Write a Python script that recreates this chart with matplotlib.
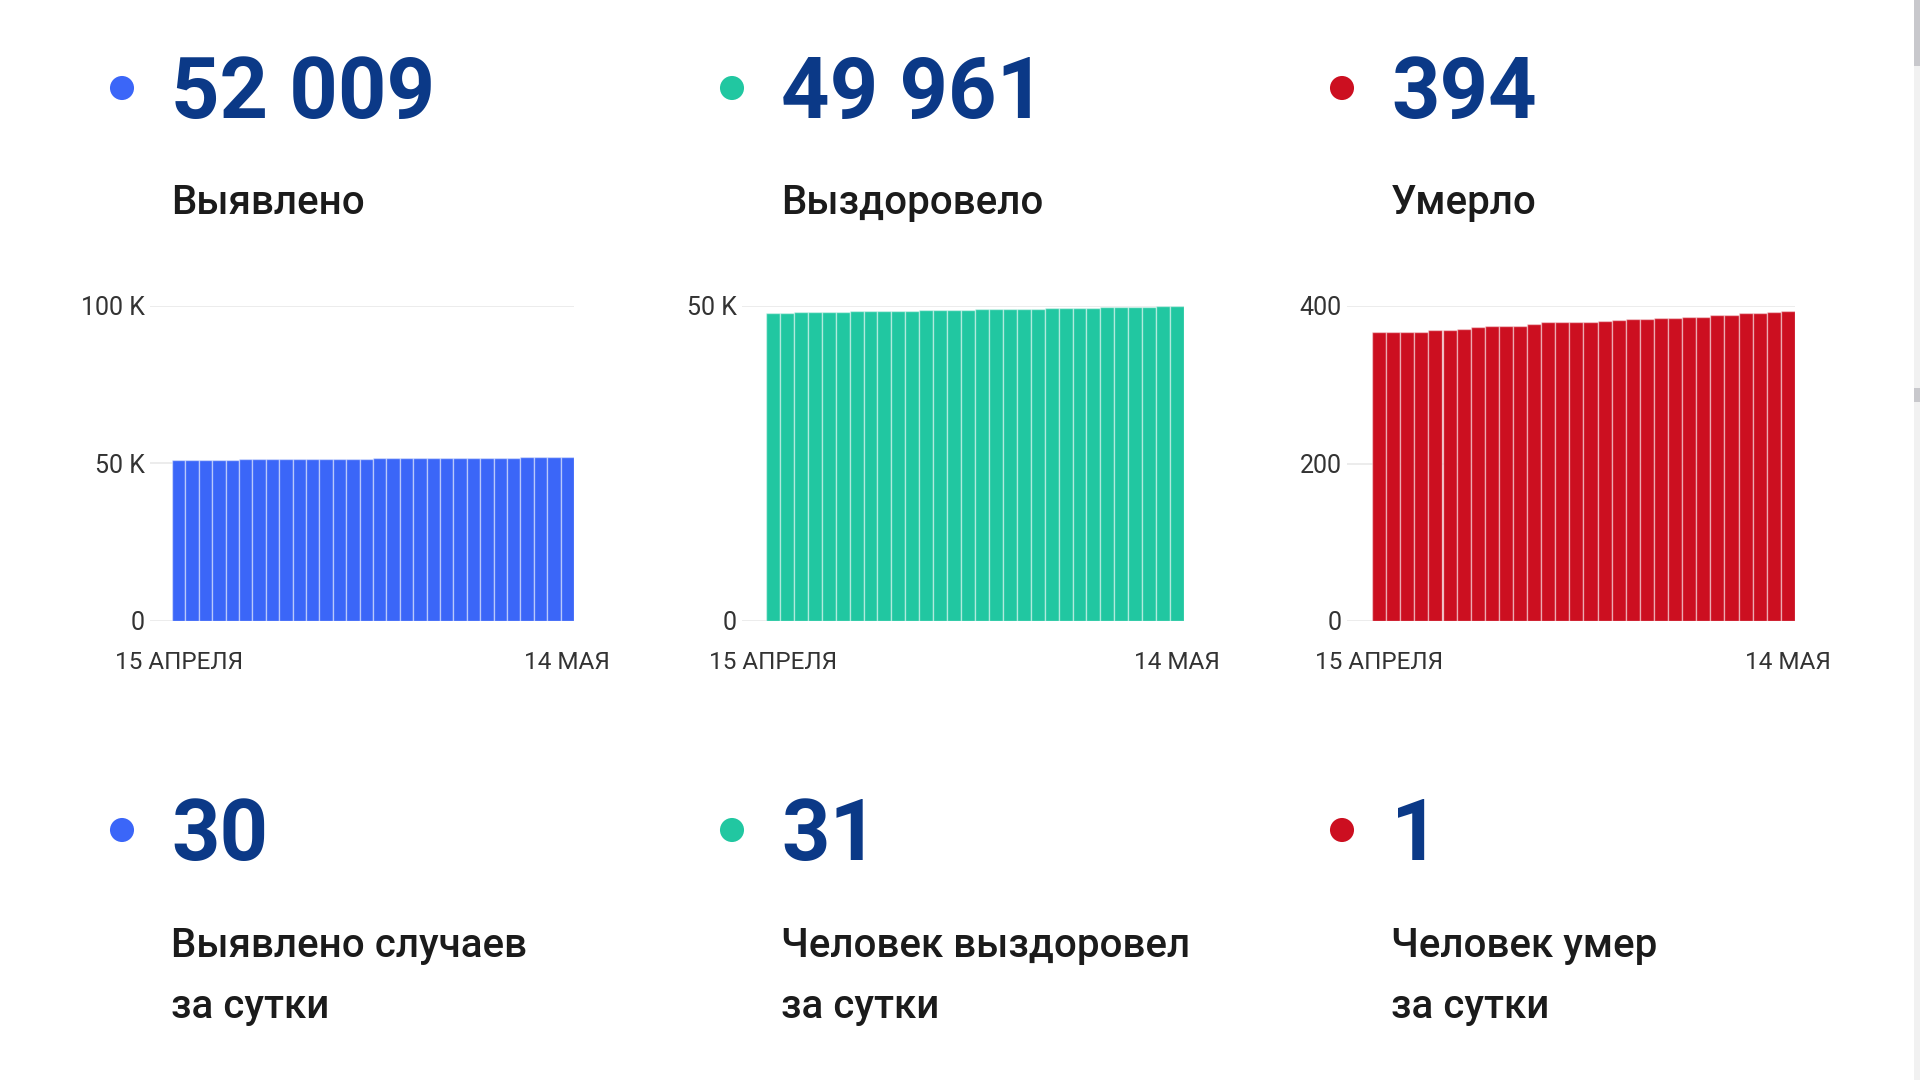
import matplotlib
matplotlib.use("Agg")
import matplotlib.pyplot as plt
from matplotlib.patches import Rectangle

plt.rcParams['font.family'] = ['Roboto', 'DejaVu Sans']

# --- data -------------------------------------------------------------
date_labels = ["15 АПРЕЛЯ", "14 МАЯ"]

cases = [51140, 51172, 51203, 51235, 51264, 51293, 51322, 51351, 51381, 51410,
         51440, 51470, 51500, 51529, 51559, 51588, 51617, 51647, 51676, 51706,
         51736, 51765, 51795, 51823, 51852, 51883, 51913, 51946, 51979, 52009]

recovered = [48930, 48966, 49001, 49037, 49072, 49108, 49143, 49178, 49213, 49249,
             49284, 49319, 49354, 49389, 49424, 49459, 49494, 49529, 49564, 49599,
             49634, 49669, 49704, 49739, 49773, 49808, 49840, 49870, 49930, 49961]

deaths = [367, 367, 367, 367, 369, 370, 371, 373, 374, 374,
          375, 377, 380, 380, 380, 380, 381, 382, 383, 384,
          385, 385, 386, 386, 388, 389, 391, 391, 393, 394]

totals = ["52 009", "49 961", "394"]
total_labels = ["Выявлено", "Выздоровело", "Умерло"]
daily = ["30", "31", "1"]
daily_labels = [["Выявлено случаев", "за сутки"],
                ["Человек выздоровел", "за сутки"],
                ["Человек умер", "за сутки"]]

y_ticks = [[0, 50000, 100000], [0, 50000], [0, 200, 400]]
y_tick_labels = [["0", "50 K", "100 K"], ["0", "50 K"], ["0", "200", "400"]]
y_max = [100000, 50000, 400]

colors = ["#3b66f8", "#21c7a1", "#cc0f20"]
num_color = "#0b3987"
text_color = "#1b1b1b"

fig = plt.figure(figsize=(19.2, 10.8), dpi=100)
fig.patch.set_facecolor("white")

# overlay in pixel coords for the big numbers / labels
ov = fig.add_axes([0, 0, 1, 1])
ov.set_xlim(0, 1920)
ov.set_ylim(1080, 0)
ov.axis("off")

col_dot_x = [122, 732, 1342]
col_text_x = [171, 781, 1391]

for i in range(3):
    # top block
    ov.scatter([col_dot_x[i]], [88], s=300, color=colors[i], edgecolors="none")
    ov.text(col_text_x[i], 118, totals[i], fontsize=61, fontweight="bold",
            color=num_color, va="baseline", ha="left")
    ov.text(col_text_x[i], 214, total_labels[i], fontsize=29, fontweight=500,
            color=text_color, va="baseline", ha="left")
    # bottom block
    ov.scatter([col_dot_x[i]], [830], s=300, color=colors[i], edgecolors="none")
    ov.text(col_text_x[i], 860, daily[i], fontsize=61, fontweight="bold",
            color=num_color, va="baseline", ha="left")
    for k, line in enumerate(daily_labels[i]):
        ov.text(col_text_x[i], 957 + k * 61, line, fontsize=29, fontweight=500,
                color=text_color, va="baseline", ha="left")

# scrollbar strip on the right edge
ov.add_patch(Rectangle((1914, 0), 6, 1080, color="#f1f1f1", lw=0))
ov.add_patch(Rectangle((1914, 0), 6, 66, color="#c8c8cc", lw=0))
ov.add_patch(Rectangle((1914, 388), 6, 14, color="#c8c8cc", lw=0))

# --- bar charts -------------------------------------------------------
# (axes left, bars start, bars end) in pixels
chart_px = [(150, 172, 574), (742, 766, 1184), (1347, 1372, 1795)]
series = [cases, recovered, deaths]
top_px, bottom_px = 306, 621

for i in range(3):
    ax_left, bar_start, bar_end = chart_px[i]
    ax = fig.add_axes([ax_left / 1920, 1 - bottom_px / 1080,
                       (bar_end - ax_left) / 1920, (bottom_px - top_px) / 1080])
    ax.set_facecolor("none")
    n = len(series[i])
    bw = (bar_end - bar_start) / n
    pad = (bar_start - ax_left) / bw
    x = list(range(n))
    ax.bar(x, series[i], width=1.0, color=colors[i],
           edgecolor=(1, 1, 1, 0.45), linewidth=1.0, zorder=3)
    ax.set_xlim(-0.5 - pad, n - 0.5)
    ax.set_ylim(0, y_max[i])
    ax.set_yticks(y_ticks[i])
    ax.set_yticklabels(y_tick_labels[i])
    ax.set_xticks([0, n - 1])
    ax.set_xticklabels(date_labels)
    ax.grid(axis="y", color="#ebebeb", linewidth=1.3, zorder=0)
    ax.tick_params(axis="y", length=0, pad=4, labelsize=18, labelcolor="#333333")
    ax.tick_params(axis="x", length=0, pad=21.5, labelsize=17.5, labelcolor="#333333")
    for s in ax.spines.values():
        s.set_visible(False)

fig.savefig("out.png", dpi=100, facecolor="white")
